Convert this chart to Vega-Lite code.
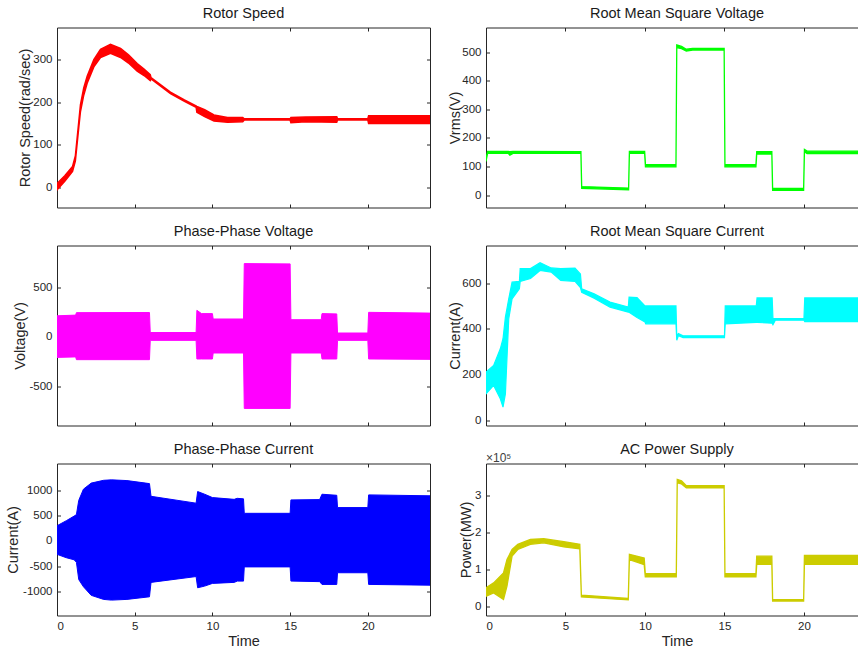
{
  "$schema": "https://vega.github.io/schema/vega-lite/v6.json",
  "background": "white",
  "padding": {"left": 5, "top": 5.5, "right": 0, "bottom": 0},
  "columns": 2,
  "spacing": {"row": 38, "column": 56},
  "bounds": "flush",
  "config": {
    "view": {"stroke": null},
    "font": "Liberation Sans",
    "axis": {"grid": false, "domainColor": "#262626", "tickColor": "#262626", "labelColor": "#262626", "titleColor": "#262626", "labelFont": "Liberation Sans", "titleFont": "Liberation Sans", "labelFontSize": 11.5, "titleFontSize": 14.5, "titleFontWeight": "normal", "tickSize": -3.5, "labelPadding": 8.5, "labelExpr": "'' + datum.value", "domainWidth": 1, "tickWidth": 1},
    "title": {"font": "Liberation Sans", "fontSize": 14.5, "fontWeight": "normal", "color": "#1a1a1a", "frame": "group", "anchor": "middle", "baseline": "alphabetic", "offset": 5.4}
  },
  "datasets": {
    "rotor": [
      {"t":0,"lo":-5,"hi":10},{"t":0.5,"lo":15,"hi":28},{"t":1.0,"lo":38,"hi":50},{"t":1.18,"lo":62,"hi":74},
      {"t":1.4,"lo":140,"hi":154},{"t":1.51,"lo":178,"hi":194},{"t":1.72,"lo":216,"hi":233},{"t":1.94,"lo":244,"hi":260},
      {"t":2.37,"lo":282,"hi":299},{"t":2.8,"lo":304,"hi":323},{"t":3.44,"lo":314,"hi":335},{"t":4.09,"lo":304,"hi":325},
      {"t":4.6,"lo":291,"hi":310},{"t":5.16,"lo":272,"hi":290},{"t":5.6,"lo":262,"hi":277},{"t":6.0,"lo":250,"hi":264},
      {"t":6.05,"lo":254,"hi":257},{"t":7.3,"lo":220,"hi":223},{"t":8.2,"lo":202,"hi":205},{"t":8.95,"lo":188,"hi":191},
      {"t":9.0,"lo":176,"hi":190},{"t":9.5,"lo":166,"hi":182},{"t":10.1,"lo":156,"hi":170},{"t":10.97,"lo":153,"hi":164},
      {"t":11.95,"lo":154,"hi":164},{"t":12.05,"lo":158,"hi":161},{"t":15.0,"lo":158,"hi":161},{"t":15.05,"lo":152,"hi":164},
      {"t":16.0,"lo":154,"hi":165},{"t":18.0,"lo":153,"hi":166},{"t":18.05,"lo":158,"hi":161},{"t":20.0,"lo":158,"hi":161},
      {"t":20.05,"lo":150,"hi":168},{"t":24,"lo":150,"hi":168}
    ],
    "vrms": [
      {"t":0,"lo":118,"hi":128},{"t":0.1,"lo":146,"hi":153},{"t":1.4,"lo":146,"hi":153},{"t":1.5,"lo":140,"hi":152},
      {"t":1.7,"lo":146,"hi":153},{"t":5.97,"lo":146,"hi":152},{"t":6.02,"lo":24,"hi":30},{"t":8.97,"lo":19,"hi":25},
      {"t":9.02,"lo":146,"hi":153},{"t":9.98,"lo":146,"hi":153},{"t":10.03,"lo":99,"hi":107},{"t":11.95,"lo":99,"hi":107},
      {"t":12.0,"lo":516,"hi":525},{"t":12.3,"lo":512,"hi":520},{"t":12.6,"lo":504,"hi":510},{"t":13.0,"lo":507,"hi":513},
      {"t":14.98,"lo":507,"hi":513},{"t":15.03,"lo":99,"hi":107},{"t":16.98,"lo":99,"hi":107},{"t":17.03,"lo":144,"hi":152},
      {"t":17.98,"lo":144,"hi":152},{"t":18.03,"lo":17,"hi":24},{"t":19.98,"lo":17,"hi":24},{"t":20.03,"lo":152,"hi":160},
      {"t":20.2,"lo":145,"hi":154},{"t":23.4,"lo":145,"hi":154}
    ],
    "pvolt": [
      {"t":0,"lo":-205,"hi":213},{"t":1.2,"lo":-200,"hi":220},{"t":1.25,"lo":-228,"hi":245},{"t":5.95,"lo":-228,"hi":246},
      {"t":6.0,"lo":-34,"hi":45},{"t":8.95,"lo":-34,"hi":45},{"t":9.0,"lo":-221,"hi":268},{"t":9.3,"lo":-221,"hi":235},
      {"t":10.0,"lo":-221,"hi":235},{"t":10.05,"lo":-161,"hi":181},{"t":12.0,"lo":-161,"hi":181},{"t":12.05,"lo":-718,"hi":738},
      {"t":15.0,"lo":-718,"hi":735},{"t":15.05,"lo":-161,"hi":174},{"t":17.0,"lo":-161,"hi":174},{"t":17.05,"lo":-221,"hi":235},
      {"t":18.0,"lo":-221,"hi":232},{"t":18.05,"lo":-34,"hi":40},{"t":20.0,"lo":-34,"hi":40},{"t":20.05,"lo":-221,"hi":248},
      {"t":24,"lo":-225,"hi":240}
    ],
    "irms": [
      {"t":0,"lo":116,"hi":211},{"t":0.48,"lo":153,"hi":240},{"t":0.9,"lo":95,"hi":313},{"t":1.07,"lo":58,"hi":357},
      {"t":1.22,"lo":116,"hi":451},{"t":1.43,"lo":444,"hi":531},{"t":1.64,"lo":531,"hi":604},{"t":2.1,"lo":575,"hi":607},
      {"t":2.15,"lo":607,"hi":663},{"t":2.8,"lo":620,"hi":663},{"t":3.4,"lo":655,"hi":689},{"t":4.1,"lo":648,"hi":666},
      {"t":4.7,"lo":612,"hi":663},{"t":5.6,"lo":607,"hi":665},{"t":5.94,"lo":580,"hi":640},{"t":6.02,"lo":560,"hi":575},
      {"t":6.8,"lo":534,"hi":553},{"t":7.8,"lo":495,"hi":517},{"t":8.95,"lo":473,"hi":495},{"t":9.0,"lo":473,"hi":539},
      {"t":9.5,"lo":450,"hi":537},{"t":10.0,"lo":430,"hi":500},{"t":10.05,"lo":422,"hi":500},{"t":11.95,"lo":422,"hi":500},
      {"t":12.0,"lo":350,"hi":365},{"t":12.1,"lo":370,"hi":380},{"t":12.4,"lo":362,"hi":370},{"t":15.0,"lo":362,"hi":370},
      {"t":15.05,"lo":422,"hi":500},{"t":17.0,"lo":428,"hi":500},{"t":17.05,"lo":428,"hi":535},{"t":18.0,"lo":425,"hi":535},
      {"t":18.05,"lo":418,"hi":445},{"t":18.2,"lo":438,"hi":445},{"t":20.0,"lo":438,"hi":445},{"t":20.05,"lo":432,"hi":535},
      {"t":23.4,"lo":432,"hi":535}
    ],
    "pcur": [
      {"t":0,"lo":-263,"hi":300},{"t":0.6,"lo":-329,"hi":400},{"t":1.1,"lo":-370,"hi":490},{"t":1.25,"lo":-420,"hi":520},
      {"t":1.4,"lo":-760,"hi":800},{"t":1.7,"lo":-900,"hi":1020},{"t":2.2,"lo":-1070,"hi":1140},{"t":3.0,"lo":-1150,"hi":1195},
      {"t":3.5,"lo":-1164,"hi":1204},{"t":4.5,"lo":-1150,"hi":1190},{"t":5.95,"lo":-1099,"hi":1130},{"t":6.05,"lo":-815,"hi":880},
      {"t":8.95,"lo":-700,"hi":745},{"t":9.05,"lo":-921,"hi":974},{"t":9.5,"lo":-888,"hi":921},{"t":10.0,"lo":-835,"hi":855},
      {"t":11.4,"lo":-815,"hi":820},{"t":11.6,"lo":-790,"hi":840},{"t":12.0,"lo":-790,"hi":830},{"t":12.05,"lo":-510,"hi":545},
      {"t":15.0,"lo":-510,"hi":545},{"t":15.05,"lo":-789,"hi":809},{"t":16.9,"lo":-800,"hi":815},{"t":17.05,"lo":-855,"hi":921},
      {"t":18.0,"lo":-855,"hi":900},{"t":18.05,"lo":-625,"hi":658},{"t":20.0,"lo":-625,"hi":658},{"t":20.05,"lo":-855,"hi":908},
      {"t":24,"lo":-870,"hi":890}
    ],
    "power": [
      {"t":0,"lo":0.27,"hi":0.5},{"t":0.48,"lo":0.36,"hi":0.63},{"t":1.1,"lo":0.18,"hi":0.9},{"t":1.32,"lo":0.54,"hi":1.26},
      {"t":1.64,"lo":1.35,"hi":1.53},{"t":2.0,"lo":1.53,"hi":1.67},{"t":2.79,"lo":1.67,"hi":1.8},{"t":3.63,"lo":1.71,"hi":1.82},
      {"t":4.9,"lo":1.6,"hi":1.74},{"t":5.9,"lo":1.55,"hi":1.67},{"t":6.0,"lo":0.25,"hi":0.3},{"t":8.95,"lo":0.17,"hi":0.21},
      {"t":9.02,"lo":1.26,"hi":1.4},{"t":9.95,"lo":1.12,"hi":1.3},{"t":10.02,"lo":0.79,"hi":0.88},{"t":11.97,"lo":0.79,"hi":0.88},
      {"t":12.03,"lo":3.33,"hi":3.42},{"t":12.3,"lo":3.3,"hi":3.38},{"t":12.6,"lo":3.19,"hi":3.25},{"t":14.98,"lo":3.19,"hi":3.25},
      {"t":15.03,"lo":0.79,"hi":0.88},{"t":16.98,"lo":0.79,"hi":0.88},{"t":17.03,"lo":1.13,"hi":1.35},{"t":17.98,"lo":1.13,"hi":1.35},
      {"t":18.03,"lo":0.14,"hi":0.18},{"t":19.98,"lo":0.14,"hi":0.18},{"t":20.03,"lo":1.13,"hi":1.37},{"t":23.4,"lo":1.13,"hi":1.37}
    ]
  },
  "concat": [
    {
      "width": 373, "height": 180,
      "title": {"text": "Rotor Speed"},
      "data": {"name": "rotor"},
      "layer": [
        {"mark": {"type": "area", "color": "#ff0000", "stroke": "#ff0000", "strokeWidth": 1.5, "clip": true},
         "encoding": {
           "x": {"field": "t", "type": "quantitative", "scale": {"domain": [0, 24], "nice": false, "zero": false}, "axis": {"orient": "bottom", "values": [0,5,10,15,20], "labels": false, "title": null}},
           "y": {"field": "hi", "type": "quantitative", "scale": {"domain": [-46, 374], "nice": false, "zero": false}, "axis": {"orient": "left", "values": [0,100,200,300], "title": "Rotor Speed(rad/sec)", "titleX": -32, "titleY": 90, "titleAngle": -90, "titleBaseline": "middle", "titleAlign": "center"}},
           "y2": {"field": "lo"}}},
        {"mark": {"type": "area", "opacity": 0},
         "encoding": {
           "x": {"field": "t", "type": "quantitative", "axis": {"orient": "top", "values": [0,5,10,15,20], "labels": false, "title": null}},
           "y": {"field": "hi", "type": "quantitative", "axis": {"orient": "right", "values": [0,100,200,300], "labels": false, "title": null}},
           "y2": {"field": "lo"}}}
      ],
      "resolve": {"axis": {"x": "independent", "y": "independent"}}
    },
    {
      "width": 372, "height": 180,
      "title": {"text": "Root Mean Square Voltage", "dx": 5},
      "data": {"name": "vrms"},
      "layer": [
        {"mark": {"type": "area", "color": "#00ff00", "stroke": "#00ff00", "strokeWidth": 1.3, "clip": true},
         "encoding": {
           "x": {"field": "t", "type": "quantitative", "scale": {"domain": [0, 23.4], "nice": false, "zero": false}, "axis": {"orient": "bottom", "values": [0,5,10,15,20], "labels": false, "title": null}},
           "y": {"field": "hi", "type": "quantitative", "scale": {"domain": [-43, 586], "nice": false, "zero": false}, "axis": {"orient": "left", "values": [0,100,200,300,400,500], "title": "Vrms(V)", "titleX": -31, "titleY": 90, "titleAngle": -90, "titleBaseline": "middle", "titleAlign": "center"}},
           "y2": {"field": "lo"}}},
        {"mark": {"type": "area", "opacity": 0},
         "encoding": {
           "x": {"field": "t", "type": "quantitative", "axis": {"orient": "top", "values": [0,5,10,15,20], "labels": false, "title": null}},
           "y": {"field": "hi", "type": "quantitative", "axis": null},
           "y2": {"field": "lo"}}}
      ],
      "resolve": {"axis": {"x": "independent", "y": "independent"}}
    },
    {
      "width": 373, "height": 180,
      "title": {"text": "Phase-Phase Voltage"},
      "data": {"name": "pvolt"},
      "layer": [
        {"mark": {"type": "area", "color": "#ff00ff", "stroke": "#ff00ff", "strokeWidth": 1, "clip": true},
         "encoding": {
           "x": {"field": "t", "type": "quantitative", "scale": {"domain": [0, 24], "nice": false, "zero": false}, "axis": {"orient": "bottom", "values": [0,5,10,15,20], "labels": false, "title": null}},
           "y": {"field": "hi", "type": "quantitative", "scale": {"domain": [-890, 920], "nice": false, "zero": false}, "axis": {"orient": "left", "values": [-500,0,500], "title": "Voltage(V)", "titleX": -36.6, "titleY": 90, "titleAngle": -90, "titleBaseline": "middle", "titleAlign": "center"}},
           "y2": {"field": "lo"}}},
        {"mark": {"type": "area", "opacity": 0},
         "encoding": {
           "x": {"field": "t", "type": "quantitative", "axis": {"orient": "top", "values": [0,5,10,15,20], "labels": false, "title": null}},
           "y": {"field": "hi", "type": "quantitative", "axis": {"orient": "right", "values": [-500,0,500], "labels": false, "title": null}},
           "y2": {"field": "lo"}}}
      ],
      "resolve": {"axis": {"x": "independent", "y": "independent"}}
    },
    {
      "width": 372, "height": 180,
      "title": {"text": "Root Mean Square Current", "dx": 5},
      "data": {"name": "irms"},
      "layer": [
        {"mark": {"type": "area", "color": "#00ffff", "stroke": "#00ffff", "strokeWidth": 1.2, "clip": true},
         "encoding": {
           "x": {"field": "t", "type": "quantitative", "scale": {"domain": [0, 23.4], "nice": false, "zero": false}, "axis": {"orient": "bottom", "values": [0,5,10,15,20], "labels": false, "title": null}},
           "y": {"field": "hi", "type": "quantitative", "scale": {"domain": [-22, 764], "nice": false, "zero": false}, "axis": {"orient": "left", "values": [0,200,400,600], "title": "Current(A)", "titleX": -31, "titleY": 90, "titleAngle": -90, "titleBaseline": "middle", "titleAlign": "center"}},
           "y2": {"field": "lo"}}},
        {"mark": {"type": "area", "opacity": 0},
         "encoding": {
           "x": {"field": "t", "type": "quantitative", "axis": {"orient": "top", "values": [0,5,10,15,20], "labels": false, "title": null}},
           "y": {"field": "hi", "type": "quantitative", "axis": null},
           "y2": {"field": "lo"}}}
      ],
      "resolve": {"axis": {"x": "independent", "y": "independent"}}
    },
    {
      "width": 373, "height": 152,
      "title": {"text": "Phase-Phase Current"},
      "data": {"name": "pcur"},
      "layer": [
        {"mark": {"type": "area", "color": "#0000ff", "stroke": "#0000ff", "strokeWidth": 1, "clip": true},
         "encoding": {
           "x": {"field": "t", "type": "quantitative", "scale": {"domain": [0, 24], "nice": false, "zero": false}, "axis": {"orient": "bottom", "values": [0,5,10,15,20], "title": "Time", "titleX": 186.5, "titleY": 29.5, "titleBaseline": "alphabetic", "titleAlign": "center", "titleAngle": 0}},
           "y": {"field": "hi", "type": "quantitative", "scale": {"domain": [-1467, 1526], "nice": false, "zero": false}, "axis": {"orient": "left", "values": [-1000,-500,0,500,1000], "title": "Current(A)", "titleX": -43.3, "titleY": 76, "titleAngle": -90, "titleBaseline": "middle", "titleAlign": "center"}},
           "y2": {"field": "lo"}}},
        {"mark": {"type": "area", "opacity": 0},
         "encoding": {
           "x": {"field": "t", "type": "quantitative", "axis": {"orient": "top", "values": [0,5,10,15,20], "labels": false, "title": null}},
           "y": {"field": "hi", "type": "quantitative", "axis": {"orient": "right", "values": [-1000,-500,0,500,1000], "labels": false, "title": null}},
           "y2": {"field": "lo"}}}
      ],
      "resolve": {"axis": {"x": "independent", "y": "independent"}}
    },
    {
      "width": 372, "height": 152,
      "title": {"text": "AC Power Supply", "dx": 5, "dy": 11},
      "data": {"name": "power"},
      "layer": [
        {"mark": {"type": "area", "color": "#cccc00", "stroke": "#cccc00", "strokeWidth": 1.3, "clip": true},
         "encoding": {
           "x": {"field": "t", "type": "quantitative", "scale": {"domain": [0, 23.4], "nice": false, "zero": false}, "axis": {"orient": "bottom", "values": [0,5,10,15,20], "title": "Time", "titleX": 191, "titleY": 29.5, "titleBaseline": "alphabetic", "titleAlign": "center", "titleAngle": 0}},
           "y": {"field": "hi", "type": "quantitative", "scale": {"domain": [-0.25, 3.85], "nice": false, "zero": false}, "axis": {"orient": "left", "values": [0,1,2,3], "title": "Power(MW)", "titleX": -19.5, "titleY": 76, "titleAngle": -90, "titleBaseline": "middle", "titleAlign": "center"}},
           "y2": {"field": "lo"}}},
        {"mark": {"type": "area", "opacity": 0},
         "encoding": {
           "x": {"field": "t", "type": "quantitative", "axis": {"orient": "top", "values": [0,5,10,15,20], "labels": false, "title": null}},
           "y": {"field": "hi", "type": "quantitative", "axis": null},
           "y2": {"field": "lo"}}},
        {"data": {"values": [{"label": "×10⁵"}]},
         "mark": {"type": "text", "align": "left", "baseline": "alphabetic", "dx": 0, "dy": -1.5, "fontSize": 12, "color": "#404040", "font": "Liberation Sans"},
         "encoding": {
           "x": {"datum": 0, "type": "quantitative", "axis": null},
           "y": {"datum": 3.85, "type": "quantitative", "axis": null},
           "text": {"field": "label"}}}
      ],
      "resolve": {"axis": {"x": "independent", "y": "independent"}}
    }
  ]
}
